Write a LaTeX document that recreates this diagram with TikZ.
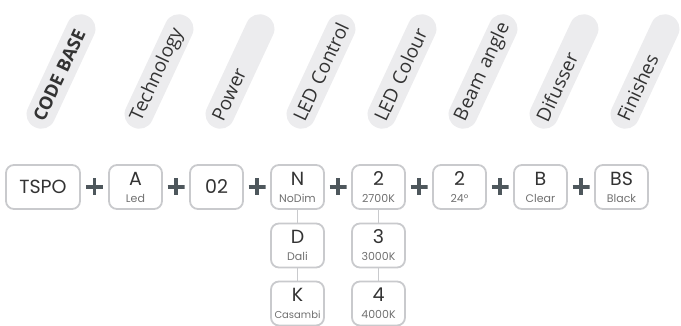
\documentclass[tikz,border=0pt]{standalone}
\usepackage{fontspec}
\setmainfont{Poppins}
\newfontfamily\pillfont{Open Sans}
\definecolor{boxgrey}{HTML}{C9CACD}
\definecolor{pillgrey}{HTML}{ECECEE}
\definecolor{pilltext}{HTML}{333333}
\definecolor{plusgrey}{HTML}{4E575C}
\definecolor{subgrey}{HTML}{707070}
\newcommand{\codesub}[2]{#1\\[-1pt]{\fontsize{11}{12}\selectfont\color{subgrey}#2}}

\tikzset{
  codebox/.style={draw=boxgrey, line width=1.8pt, rounded corners=8pt,
    minimum width=53pt, minimum height=44pt, inner sep=0pt, align=center,
    text=pilltext, font=\fontsize{19}{18}\selectfont},
  pill/.style={fill=pillgrey, rounded corners=14pt, rotate=65,
    minimum height=29pt, text width=107pt, inner xsep=8pt, align=left,
    text=pilltext, font=\pillfont\fontsize{19}{19}\selectfont},
  plussign/.style={minimum size=17pt, inner sep=0pt,
    path picture={\draw[plusgrey, line width=3.6pt]
      (path picture bounding box.west) -- (path picture bounding box.east)
      (path picture bounding box.north) -- (path picture bounding box.south);}},
  link/.style={draw=boxgrey, line width=1.8pt},
}

\begin{document}
\begin{tikzpicture}[x=1pt, y=1pt]
\useasboundingbox (0,0) rectangle (681,-326);

% headings
\node[pill, font=\pillfont\bfseries\fontsize{18}{18}\selectfont] (hbase) at (61,-71.5) {CODE BASE};
\foreach \name/\x/\txt in {htech/159/Technology, hpower/240/Power,
    hcontrol/321/LED Control, hcolour/402/LED Colour, hbeam/483/Beam angle,
    hdiff/564/Difusser, hfinish/645/Finishes}
  \node[pill] (\name) at (\x,-71.5) {\txt};

% code row
\node[codebox, minimum width=74pt] (tspo) at (43,-187) {TSPO};
\node[codebox] (led) at (135.5,-187) {\codesub{A}{Led}};
\node[codebox] (pow) at (216.5,-187) {02};
\node[codebox] (nodim) at (297.5,-187) {\codesub{N}{NoDim}};
\node[codebox] (k2700) at (378.5,-187) {\codesub{2}{2700K}};
\node[codebox] (beam) at (459.5,-187) {\codesub{2}{24°}};
\node[codebox] (clear) at (540.5,-187) {\codesub{B}{Clear}};
\node[codebox] (black) at (621.5,-187) {\codesub{BS}{Black}};

% options
\node[codebox] (dali) at (297.5,-245.5) {\codesub{D}{Dali}};
\node[codebox] (casambi) at (297.5,-303.5) {K\\[-1pt]{\fontsize{10}{12}\selectfont\color{subgrey}Casambi}};
\node[codebox] (k3000) at (378.5,-245.5) {\codesub{3}{3000K}};
\node[codebox] (k4000) at (378.5,-303.5) {\codesub{4}{4000K}};

\foreach \a/\b in {nodim/dali, dali/casambi, k2700/k3000, k3000/k4000}
  \draw[link] (\a) -- (\b);

\foreach \a/\b in {tspo/led, led/pow, pow/nodim, nodim/k2700, k2700/beam,
    beam/clear, clear/black}
  \path (\a.east) -- (\b.west) node[midway, plussign] {};
\end{tikzpicture}
\end{document}
